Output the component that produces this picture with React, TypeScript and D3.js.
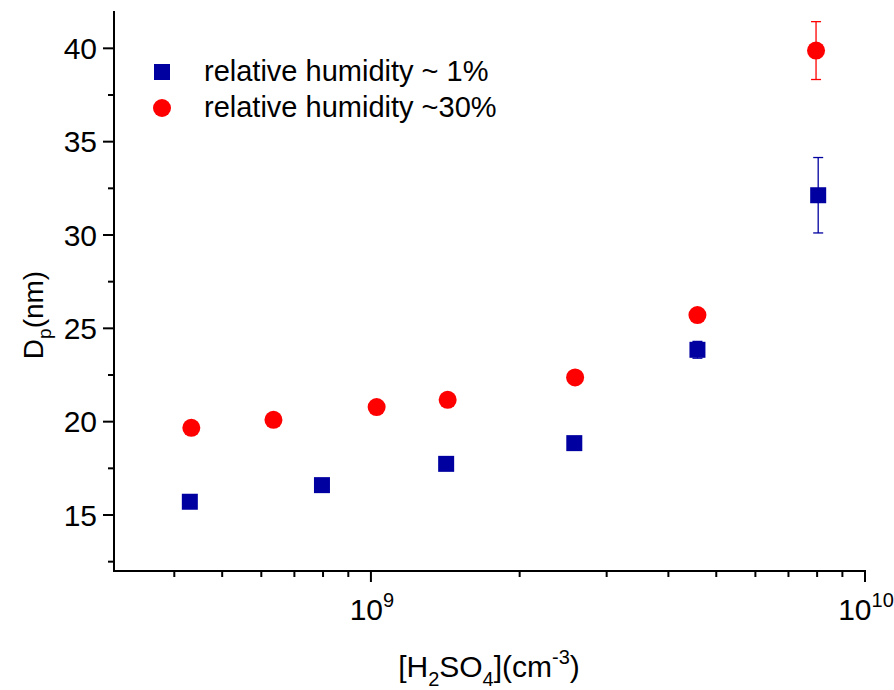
import React from "react";
import * as d3 from "d3";

const W = 894;
const H = 690;

// Data
const rh1X = [4.3e8, 7.96e8, 1.42e9, 2.58e9, 4.58e9, 8.04e9];
const rh1Y = [15.71, 16.6, 17.74, 18.85, 23.85, 32.13];
const rh1Err = [0, 0, 0, 0, 0.45, 2.02];

const rh30X = [4.33e8, 6.35e8, 1.027e9, 1.43e9, 2.59e9, 4.58e9, 7.96e9];
const rh30Y = [19.67, 20.1, 20.78, 21.17, 22.37, 25.71, 39.88];
const rh30Err = [0, 0, 0, 0, 0, 0, 1.55];

const yMajorTicks = [15, 20, 25, 30, 35, 40];
const yMinorTicks = [12.5, 17.5, 22.5, 27.5, 32.5, 37.5];
const xMajorTicks = [1e9, 1e10];
const xMinorTicks = [4e8, 5e8, 6e8, 7e8, 8e8, 9e8, 2e9, 3e9, 4e9, 5e9, 6e9, 7e9, 8e9, 9e9];

const legendLabels = ["relative humidity ~ 1%", "relative humidity ~30%"];

const BLUE = "#0000A0";
const RED = "#FF0000";
const FONT = "'Liberation Sans', Arial, sans-serif";

export default function App() {
  const x = d3.scaleLog().domain([3.02e8, 1e10]).range([114, 865]);
  const y = d3.scaleLinear().domain([12, 42]).range([571, 11]);

  const [x0, x1] = x.range();
  const [yb, yt] = y.range();

  const sq = 16;
  const r = 9;
  const cap = 5;

  return (
    <svg
      width={W}
      height={H}
      style={{ position: "absolute", left: 0, top: 0, background: "#fff" }}
      fontFamily={FONT}
    >
      {/* Y axis */}
      <line x1={x0} x2={x0} y1={yt} y2={yb + 1} stroke="#000" strokeWidth={2} />
      {yMajorTicks.map((t) => (
        <g key={"ym" + t}>
          <line x1={x0 - 11} x2={x0} y1={y(t)} y2={y(t)} stroke="#000" strokeWidth={2} />
          <text x={97} y={y(t)} dy="0.36em" textAnchor="end" fontSize={30}>
            {t}
          </text>
        </g>
      ))}
      {yMinorTicks.map((t) => (
        <line key={"yn" + t} x1={x0 - 6} x2={x0} y1={y(t)} y2={y(t)} stroke="#000" strokeWidth={2} />
      ))}

      {/* X axis */}
      <line x1={x0 - 1} x2={x1 + 1} y1={yb} y2={yb} stroke="#000" strokeWidth={2} />
      {xMajorTicks.map((t) => (
        <g key={"xm" + t}>
          <line x1={x(t)} x2={x(t)} y1={yb} y2={yb + 11} stroke="#000" strokeWidth={2} />
          <text x={x(t) + 1} y={620} textAnchor="middle" fontSize={30}>
            10
            <tspan fontSize={20} dy={-13}>
              {Math.round(Math.log10(t))}
            </tspan>
          </text>
        </g>
      ))}
      {xMinorTicks.map((t) => (
        <line key={"xn" + t} x1={x(t)} x2={x(t)} y1={yb} y2={yb + 6} stroke="#000" strokeWidth={2} />
      ))}

      {/* Axis titles */}
      <text x={489} y={677} textAnchor="middle" fontSize={30}>
        [H<tspan fontSize={20} dy={9}>2</tspan>
        <tspan dy={-9}>SO</tspan>
        <tspan fontSize={20} dy={9}>4</tspan>
        <tspan dy={-9}>](cm</tspan>
        <tspan fontSize={20} dy={-13}>-3</tspan>
        <tspan dy={13}>)</tspan>
      </text>
      <text transform={`translate(43,315) rotate(-90)`} textAnchor="middle" fontSize={28}>
        D<tspan fontSize={19} dy={8}>p</tspan>
        <tspan dy={-8}>(nm)</tspan>
      </text>

      {/* Error bars */}
      {rh1X.map((v, i) =>
        rh1Err[i] > 0 ? (
          <g key={"e1" + i} stroke={BLUE} strokeWidth={1.3}>
            <line x1={x(v)} x2={x(v)} y1={y(rh1Y[i] - rh1Err[i])} y2={y(rh1Y[i] + rh1Err[i])} />
            <line x1={x(v) - cap} x2={x(v) + cap} y1={y(rh1Y[i] + rh1Err[i])} y2={y(rh1Y[i] + rh1Err[i])} />
            <line x1={x(v) - cap} x2={x(v) + cap} y1={y(rh1Y[i] - rh1Err[i])} y2={y(rh1Y[i] - rh1Err[i])} />
          </g>
        ) : null
      )}
      {rh30X.map((v, i) =>
        rh30Err[i] > 0 ? (
          <g key={"e30" + i} stroke={RED} strokeWidth={1.3}>
            <line x1={x(v)} x2={x(v)} y1={y(rh30Y[i] - rh30Err[i])} y2={y(rh30Y[i] + rh30Err[i])} />
            <line x1={x(v) - cap} x2={x(v) + cap} y1={y(rh30Y[i] + rh30Err[i])} y2={y(rh30Y[i] + rh30Err[i])} />
            <line x1={x(v) - cap} x2={x(v) + cap} y1={y(rh30Y[i] - rh30Err[i])} y2={y(rh30Y[i] - rh30Err[i])} />
          </g>
        ) : null
      )}

      {/* Markers */}
      {rh1X.map((v, i) => (
        <rect key={"s" + i} x={x(v) - sq / 2} y={y(rh1Y[i]) - sq / 2} width={sq} height={sq} fill={BLUE} />
      ))}
      {rh30X.map((v, i) => (
        <circle key={"c" + i} cx={x(v)} cy={y(rh30Y[i])} r={r} fill={RED} />
      ))}

      {/* Legend */}
      <rect x={162 - 8} y={72 - 8} width={16} height={16} fill={BLUE} />
      <circle cx={162} cy={108} r={9} fill={RED} />
      <text x={204} y={81} fontSize={29}>
        {legendLabels[0]}
      </text>
      <text x={204} y={117} fontSize={29}>
        {legendLabels[1]}
      </text>
    </svg>
  );
}
